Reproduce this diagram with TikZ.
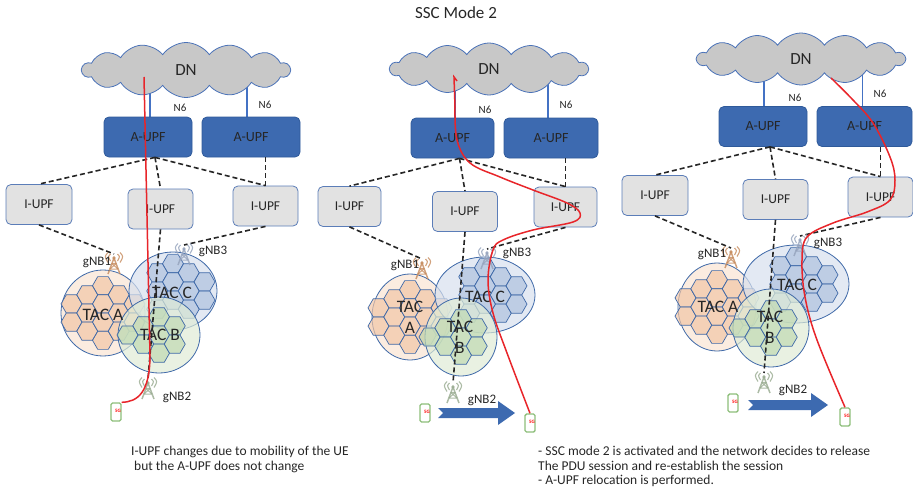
\documentclass[tikz,border=0pt]{standalone}
\usepackage{fontspec}
\setmainfont{Carlito}
\usetikzlibrary{shapes.symbols, backgrounds, positioning}

\definecolor{ink}{HTML}{262626}
\definecolor{cloudgray}{HTML}{C8C8C8}
\definecolor{cloudedge}{HTML}{4A72B8}
\definecolor{aupfblue}{HTML}{3D6AB0}
\definecolor{aupfedge}{HTML}{2F5A9A}
\definecolor{iupfgray}{HTML}{E2E2E2}
\definecolor{iupfedge}{HTML}{5B7DB8}
\definecolor{nsixblue}{HTML}{4472C4}
\definecolor{sessred}{HTML}{E8252A}
\definecolor{celledge}{HTML}{3F69A8}
\definecolor{areaA}{HTML}{F9E4D3}
\definecolor{areaB}{HTML}{DFEBD6}
\definecolor{areaC}{HTML}{D7E0EE}
\definecolor{cellA}{HTML}{F2C6A6}
\definecolor{cellB}{HTML}{C1DAB3}
\definecolor{cellC}{HTML}{AFC2DE}
\definecolor{gnbA}{HTML}{C58A5C}
\definecolor{gnbB}{HTML}{97AA8F}
\definecolor{gnbC}{HTML}{94A2BC}
\definecolor{uegreen}{HTML}{8DBE7A}

% cell layouts around the centre of a tracking area
\def\cellsA{-31.5/-9.1, -31.5/9.1, -15.75/-18.2, -15.75/0, -15.75/18.2, 0/-27.3, 0/-9.1, 0/9.1, 0/27.3, 15.75/-18.2, 15.75/0, 15.75/18.2, 31.5/-9.1, 31.5/9.1}
\def\cellsC{-15.75/-18.2, -15.75/0, -15.75/18.2, 0/-27.3, 0/-9.1, 0/9.1, 15.75/-18.2, 15.75/0, 15.75/18.2, 31.5/-9.1, 31.5/9.1}
\def\cellsB{-15.75/-9.1, -15.75/9.1, 0/-18.2, 0/0, 0/18.2, 15.75/-9.1, 15.75/9.1, -31.5/0}

% #1,#2 centre, #3 radii, #4 area colour, #5 cell colour, #6 cell list
\newcommand{\tacarea}[6]{%
  \draw[area, fill=#4] (#1,#2) ellipse [#3];
  \foreach \dx/\dy in #6
    \draw[cell, fill=#5] ({#1+(\dx)},{#2+(\dy)}) +(0:10.5) -- +(60:10.5) -- +(120:10.5)
      -- +(180:10.5) -- +(240:10.5) -- +(300:10.5) -- cycle;
}

% notched block arrow from x=#1 to x=#2 at height #3
\newcommand{\movearrow}[3]{%
  \fill[aupfblue] (#1,{#3-5}) -- ({#2-17},{#3-5}) -- ({#2-17},{#3-12}) -- (#2,#3)
    -- ({#2-17},{#3+12}) -- ({#2-17},{#3+5}) -- (#1,{#3+5}) -- ({#1+5},#3) -- cycle;
}

\tikzset{
  pics/tower/.style={code={
    \draw[line width=1.5pt] (-6,20) -- (0,4) -- (6,20);
    \draw[line width=1pt] (-4.2,15) -- (4.2,15) (-2.4,9.5) -- (2.4,9.5)
      (-4.2,15) -- (2.4,9.5) (4.2,15) -- (-2.4,9.5);
    \fill (0,4) circle (1.8);
    \draw[line width=1.1pt] (-3.5,0) .. controls (-6,2.5) .. (-3.5,7)
      (3.5,0) .. controls (6,2.5) .. (3.5,7);
    \draw[line width=1.1pt] (-6,-1.5) .. controls (-9.5,2.5) .. (-6,8.5)
      (6,-1.5) .. controls (9.5,2.5) .. (6,8.5);
  }}
}

\begin{document}
\begin{tikzpicture}[x=1pt, y=-1pt,
    dn/.style={cloud, cloud puffs=14, cloud puff arc=110, aspect=3.8, draw=cloudedge, fill=cloudgray, line width=0.8pt, inner sep=0pt, font=\fontsize{17}{20}\selectfont, text=ink},
    aupf/.style={rectangle, rounded corners=5pt, draw=aupfedge, fill=aupfblue, minimum height=40pt, line width=0.8pt, font=\fontsize{14}{16}\selectfont, text=ink},
    iupf/.style={rectangle, rounded corners=5pt, draw=iupfedge, fill=iupfgray, minimum width=65pt, minimum height=40pt, line width=0.8pt, font=\fontsize{13.5}{16}\selectfont, text=ink},
    backhaul/.style={dash pattern=on 5pt off 3pt, line width=1.6pt, black!85},
    nsix/.style={nsixblue, line width=1.2pt},
    nsixlabel/.style={inner sep=0pt, font=\fontsize{11}{13}\selectfont, text=ink},
    gnblabel/.style={inner sep=0pt, font=\fontsize{13}{15}\selectfont, text=ink},
    taclabel/.style={inner sep=0pt, align=center, font=\fontsize{17.5}{21}\selectfont, text=ink},
    area/.style={draw=celledge, line width=0.8pt, fill opacity=0.7},
    cell/.style={draw=celledge, line width=0.7pt, fill opacity=0.7},
    ue/.style={rectangle, rounded corners=1.5pt, draw=uegreen, line width=1.4pt, fill=white, minimum width=10pt, minimum height=18pt, inner sep=0pt, font=\fontsize{5}{5}\selectfont\bfseries, text=red},
    session/.style={sessred, line width=1.5pt},
    note/.style={inner sep=0pt, anchor=north west, align=left, font=\fontsize{13.5}{14.5}\selectfont, text=ink}
]
\useasboundingbox (0,0) rectangle (913,495);

\node[font=\fontsize{17}{20}\selectfont, text=ink] (title) at (456,13) {SSC Mode 2};

%% first panel: UE moves, A-UPF kept
\node[dn, minimum width=208, minimum height=55] (dn1) at (186,70) {DN};
\node[aupf, minimum width=88] (aupf1a) at (148,137) {A-UPF};
\node[aupf, minimum width=98] (aupf1b) at (251,137) {A-UPF};
\node[nsixlabel] (n6p1a) at (180,108) {N6};
\node[nsixlabel] (n6p1b) at (265,105) {N6};
\begin{scope}[on background layer]
  \draw[nsix] ([xshift=2pt]aupf1a.north) -- ++(0,-45);
  \draw[nsix] ([xshift=-4pt]aupf1b.north) -- ++(0,-45);
\end{scope}
\node[iupf, minimum width=66] (iupf1a) at (39,204.5) {I-UPF};
\node[iupf] (iupf1b) at (160.5,209) {I-UPF};
\node[iupf] (iupf1c) at (265.5,206) {I-UPF};
\draw[backhaul] ([xshift=7pt]aupf1a.south) -- (iupf1a.north);
\draw[backhaul] ([xshift=7pt]aupf1a.south) -- (iupf1b.north);
\draw[backhaul] ([xshift=7pt]aupf1a.south) -- (iupf1c.north);
\draw[backhaul] (aupf1b.south -| iupf1c.north) -- (iupf1c.north);

\tacarea{103}{313}{x radius=42, y radius=43}{areaA}{cellA}{\cellsA}
\tacarea{173}{291}{x radius=44, y radius=39}{areaC}{cellC}{\cellsC}
\tacarea{159}{335}{x radius=41, y radius=38}{areaB}{cellB}{\cellsB}
\node[taclabel] (tac1a) at (103,315) {TAC A};
\node[taclabel] (tac1c) at (172,293) {TAC C};
\node[taclabel] (tac1b) at (160,335) {TAC B};

\coordinate (gnb1a) at (114,254);
\coordinate (gnb1b) at (148,379);
\coordinate (gnb1c) at (184,245);
\draw[backhaul] (iupf1a.south) -- (gnb1a);
\draw[backhaul] (iupf1b.south) -- (gnb1b);
\draw[backhaul] (iupf1c.south) -- (gnb1c);
\pic[gnbA, opacity=0.8] at (gnb1a) {tower};
\pic[gnbB, opacity=0.8] at (gnb1b) {tower};
\pic[gnbC, opacity=0.8] at (gnb1c) {tower};
\node[gnblabel] (lg1a) at (97,262) {gNB1};
\node[gnblabel] (lg1b) at (177,397) {gNB2};
\node[gnblabel] (lg1c) at (213,251) {gNB3};

\node[ue] (ue1) at (116,412) {\raisebox{3pt}{\hspace{4pt}5G}};
\coordinate (up1) at (144,77);
\draw[session] (up1) -- (150,355) .. controls (150,392) and (138,402) .. (ue1.north east);

%% second panel: SSC mode 2 kicks in
\node[dn, minimum width=198, minimum height=52] (dn2) at (489,69) {DN};
\node[aupf, minimum width=83] (aupf2a) at (452.5,138) {A-UPF};
\node[aupf, minimum width=94] (aupf2b) at (551,138) {A-UPF};
\node[nsixlabel] (n6p2a) at (485,110) {N6};
\node[nsixlabel] (n6p2b) at (566,105) {N6};
\begin{scope}[on background layer]
  \draw[nsix] ([xshift=2.5pt]aupf2a.north) -- ++(0,-45);
  \draw[nsix] ([xshift=-3pt]aupf2b.north) -- ++(0,-45);
\end{scope}
\node[iupf, minimum width=63] (iupf2a) at (349.5,206.5) {I-UPF};
\node[iupf] (iupf2b) at (465,211.5) {I-UPF};
\node[iupf, minimum width=63] (iupf2c) at (565.5,207) {I-UPF};
\draw[backhaul] ([xshift=7pt]aupf2a.south) -- (iupf2a.north);
\draw[backhaul] ([xshift=7pt]aupf2a.south) -- (iupf2b.north);
\draw[backhaul] ([xshift=7pt]aupf2a.south) -- (iupf2c.north);
\draw[backhaul] (aupf2b.south -| iupf2c.north) -- (iupf2c.north);

\tacarea{410}{317}{x radius=38, y radius=43}{areaA}{cellA}{\cellsA}
\tacarea{485}{295}{x radius=50, y radius=38}{areaC}{cellC}{\cellsC}
\tacarea{461}{337}{x radius=36, y radius=39}{areaB}{cellB}{\cellsB}
\node[taclabel] (tac2a) at (410,317) {TAC\\A};
\node[taclabel] (tac2c) at (485,297) {TAC C};
\node[taclabel] (tac2b) at (460,337) {TAC\\B};

\coordinate (gnb2a) at (422,259);
\coordinate (gnb2b) at (453,383);
\coordinate (gnb2c) at (487,249);
\draw[backhaul] (iupf2a.south) -- (gnb2a);
\draw[backhaul] (iupf2b.south) -- (gnb2b);
\draw[backhaul] (iupf2c.south) -- (gnb2c);
\pic[gnbA, opacity=0.8] at (gnb2a) {tower};
\pic[gnbB, opacity=0.8] at (gnb2b) {tower};
\pic[gnbC, opacity=0.8] at (gnb2c) {tower};
\node[gnblabel] (lg2a) at (405,265) {gNB1};
\node[gnblabel] (lg2b) at (482,400) {gNB2};
\node[gnblabel] (lg2c) at (517,253) {gNB3};

\node[ue] (ue2a) at (425,413) {\raisebox{3pt}{\hspace{4pt}5G}};
\node[ue] (ue2b) at (530,423) {\raisebox{3pt}{\hspace{4pt}5G}};
\movearrow{438}{515}{413}
\coordinate (up2) at (454,77);
\draw[session] (457,81) -- (up2) -- (455,107)
  plot[smooth, tension=0.6] coordinates {(455,107) (457,140) (470,163) (500,177) (533,190) (567,203) (580,213) (573,222) (533,230) (503,240) (493,250) (488,280) (493,313) (507,353) (ue2b.north)};

%% third panel: A-UPF relocated
\node[dn, minimum width=208, minimum height=52] (dn3) at (801,59) {DN};
\node[aupf, minimum width=88] (aupf3a) at (763,126.5) {A-UPF};
\node[aupf, minimum width=95] (aupf3b) at (864.5,126.5) {A-UPF};
\node[nsixlabel] (n6p3a) at (795,98) {N6};
\node[nsixlabel] (n6p3b) at (880,94) {N6};
\begin{scope}[on background layer]
  \draw[nsix] ([xshift=1pt]aupf3a.north) -- ++(0,-45);
  \draw[nsix] ([xshift=-2pt]aupf3b.north) -- ++(0,-45);
\end{scope}
\node[iupf, minimum width=66] (iupf3a) at (655,195.5) {I-UPF};
\node[iupf] (iupf3b) at (775.5,199.5) {I-UPF};
\node[iupf] (iupf3c) at (880.5,197) {I-UPF};
\draw[backhaul] ([xshift=7pt]aupf3a.south) -- (iupf3a.north);
\draw[backhaul] ([xshift=7pt]aupf3a.south) -- (iupf3b.north);
\draw[backhaul] ([xshift=7pt]aupf3a.south) -- (iupf3c.north);
\draw[backhaul] (aupf3b.south -| iupf3c.north) -- (iupf3c.north);

\tacarea{717}{307}{x radius=39, y radius=44}{areaA}{cellA}{\cellsA}
\tacarea{796}{284}{x radius=53, y radius=39}{areaC}{cellC}{\cellsC}
\tacarea{771}{328}{x radius=38, y radius=39}{areaB}{cellB}{\cellsB}
\node[taclabel] (tac3a) at (718,307) {TAC A};
\node[taclabel] (tac3c) at (797,285) {TAC C};
\node[taclabel] (tac3b) at (770,327) {TAC\\B};

\coordinate (gnb3a) at (731,248);
\coordinate (gnb3b) at (764,373);
\coordinate (gnb3c) at (800,236);
\draw[backhaul] (iupf3a.south) -- (gnb3a);
\draw[backhaul] (iupf3b.south) -- (gnb3b);
\draw[backhaul] (iupf3c.south) -- (gnb3c);
\pic[gnbA, opacity=0.8] at (gnb3a) {tower};
\pic[gnbB, opacity=0.8] at (gnb3b) {tower};
\pic[gnbC, opacity=0.8] at (gnb3c) {tower};
\node[gnblabel] (lg3a) at (712,254) {gNB1};
\node[gnblabel] (lg3b) at (793,390) {gNB2};
\node[gnblabel] (lg3c) at (828,243) {gNB3};

\node[ue] (ue3a) at (733,403) {\raisebox{3pt}{\hspace{4pt}5G}};
\node[ue] (ue3b) at (845,417) {\raisebox{3pt}{\hspace{4pt}5G}};
\movearrow{748}{828}{405}
\coordinate (up3) at (831,78);
\draw[session] plot[smooth, tension=0.6] coordinates {(up3) (853,100) (873,123) (890,157) (895,180) (890,200) (867,212) (833,223) (807,237) (802,260) (805,297) (817,340) (ue3b.north)};

%% notes under the panels
\node[note] (note1) at (131,446) {I-UPF changes due to mobility of the UE\\\hspace{3pt}but the A-UPF does not change};
\node[note] (note2) at (538,446) {- SSC mode 2 is activated and the network decides to release\\The PDU session and re-establish the session\\- A-UPF relocation is performed.};
\end{tikzpicture}
\end{document}
